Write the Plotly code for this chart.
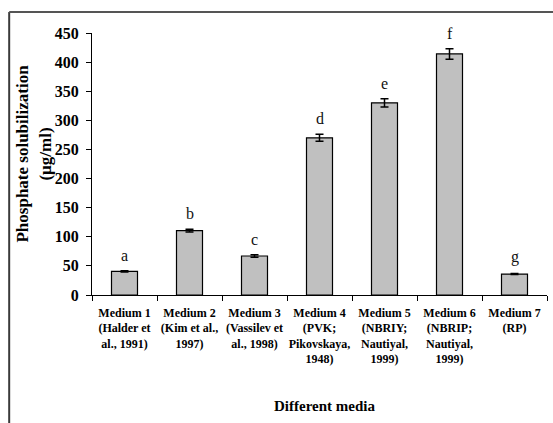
import plotly.graph_objects as go

# Phosphate solubilization in different growth media
media = [
    "Medium 1<br>(Halder et<br>al., 1991)",
    "Medium 2<br>(Kim et al.,<br>1997)",
    "Medium 3<br>(Vassilev et<br>al., 1998)",
    "Medium 4<br>(PVK;<br>Pikovskaya,<br>1948)",
    "Medium 5<br>(NBRIY;<br>Nautiyal,<br>1999)",
    "Medium 6<br>(NBRIP;<br>Nautiyal,<br>1999)",
    "Medium 7<br>(RP)",
]
solubilization = [40.5, 110.5, 67, 270, 330, 414, 36]
std_error = [1, 2.5, 2, 6, 7, 9, 1]
groups = ["a", "b", "c", "d", "e", "f", "g"]
y_ticks = [0, 50, 100, 150, 200, 250, 300, 350, 400, 450]

SERIF = "Liberation Serif, Times New Roman, serif"

fig = go.Figure()
fig.add_trace(go.Bar(
    x=media,
    y=solubilization,
    width=0.4,
    marker=dict(color="#c0c0c0", line=dict(color="black", width=1.2)),
    error_y=dict(type="data", array=std_error, color="black",
                 thickness=1.5, width=4),
    showlegend=False,
))

# significance letters above each bar
for i, (v, e, g) in enumerate(zip(solubilization, std_error, groups)):
    fig.add_annotation(x=i, y=v + e, text=g, showarrow=False,
                       yanchor="bottom", yshift=5,
                       font=dict(family=SERIF, size=16, color="#111"))

fig.add_annotation(xref="paper", yref="paper", x=0, y=0.54, xshift=-58,
                   text="Phosphate solubilization<br>(µg/ml)",
                   textangle=-90, showarrow=False,
                   xanchor="center", yanchor="middle",
                   font=dict(family=SERIF, size=17, color="black",
                             weight="bold"))
fig.add_annotation(xref="paper", yref="paper", x=0.512, y=-0.4225,
                   text="Different media", showarrow=False,
                   xanchor="center", yanchor="middle",
                   font=dict(family=SERIF, size=15, color="black",
                             weight="bold"))

# frame lines on left and top
fig.add_shape(type="line", xref="paper", yref="paper",
              x0=-0.182, x1=-0.182, y0=-0.5, y1=1.08,
              line=dict(color="#3a3a3a", width=2))
fig.add_shape(type="line", xref="paper", yref="paper",
              x0=-0.182, x1=1.02, y0=1.08, y1=1.08,
              line=dict(color="#555555", width=2))

fig.update_layout(
    width=553, height=423,
    margin=dict(l=92, r=6, t=33, b=128),
    paper_bgcolor="white", plot_bgcolor="white",
    bargap=0.6,
    xaxis=dict(
        type="category", range=[-0.5, 6.5], tickangle=0,
        showline=True, linecolor="black", linewidth=1.2,
        ticks="outside", tickson="boundaries", ticklen=5,
        tickcolor="black", tickwidth=1.2,
        tickfont=dict(family=SERIF, size=12, color="black", weight="bold"),
        showgrid=False, zeroline=False, ticklabelstandoff=6,
    ),
    xaxis2=dict(
        overlaying="x", anchor="y", type="linear", range=[-0.5, 6.5],
        tickvals=[-0.5, 0.5, 1.5, 2.5, 3.5, 4.5, 5.5, 6.5],
        ticks="inside", ticklen=4, tickcolor="black", tickwidth=1.2,
        showticklabels=False, showgrid=False, zeroline=False,
        showline=False,
    ),
    yaxis=dict(
        range=[0, 450], tickvals=y_ticks,
        showline=True, linecolor="black", linewidth=1.2,
        ticks="outside", ticklen=5, tickcolor="black", tickwidth=1.2,
        tickfont=dict(family=SERIF, size=16, color="black", weight="bold"),
        showgrid=False, zeroline=False, ticklabelstandoff=4,
    ),
    yaxis2=dict(
        overlaying="y", anchor="x", side="left", range=[0, 450],
        tickvals=y_ticks, ticks="inside", ticklen=5,
        tickcolor="black", tickwidth=1.2,
        showticklabels=False, showgrid=False, zeroline=False,
        showline=False,
    ),
)

fig.write_html("out.html")
